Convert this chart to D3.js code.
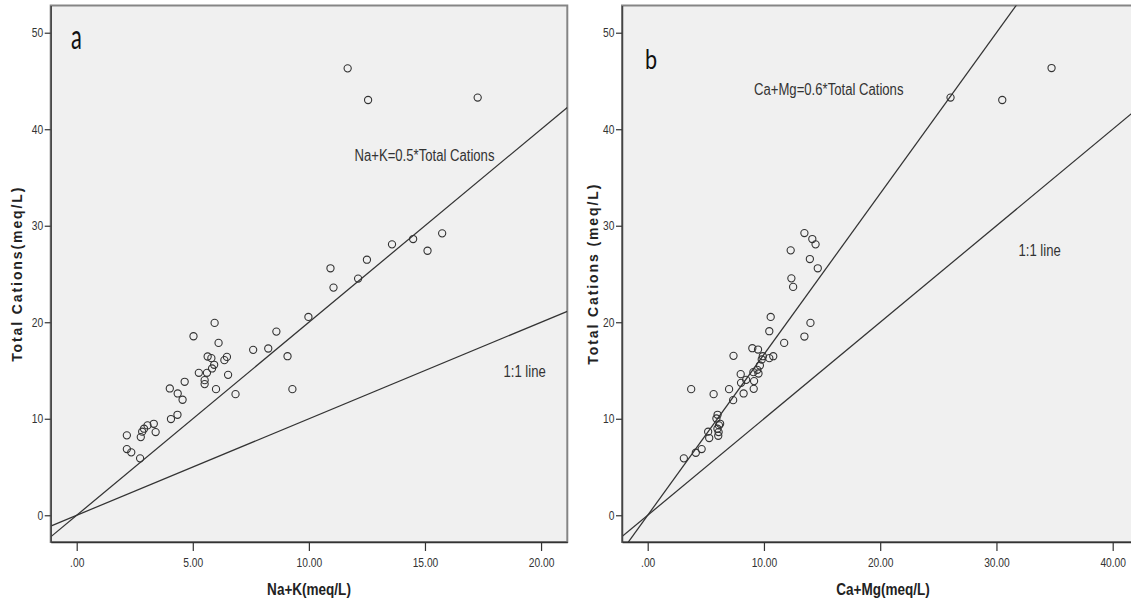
<!DOCTYPE html>
<html><head><meta charset="utf-8">
<script src="https://cdn.jsdelivr.net/npm/d3@7"></script>
<style>
body{margin:0;background:#fff;}
svg{display:block;}
</style></head>
<body>
<svg id="chart" width="1131" height="602"></svg>
<script>
// ---- data ----
const naK = [2.16,2.16,2.35,2.73,2.76,2.82,2.9,3.05,3.32,3.4,4.01,4.06,4.34,4.35,4.56,4.65,5.03,5.26,5.51,5.51,5.61,5.64,5.8,5.83,5.92,5.94,6.0,6.11,6.36,6.47,6.52,6.84,7.6,8.25,8.6,9.08,9.29,9.98,10.93,11.06,11.67,12.12,12.5,12.55,13.58,14.49,15.11,15.74,17.27];
const naKTotal = [8.28,6.86,6.52,5.9,8.1,8.66,8.97,9.31,9.48,8.62,13.14,9.97,10.41,12.62,11.97,13.83,18.55,14.76,14.0,13.59,14.76,16.45,16.28,15.21,15.59,19.93,13.07,17.86,16.07,16.41,14.55,12.55,17.14,17.28,19.03,16.48,13.07,20.55,25.59,23.59,46.31,24.52,26.48,43.03,28.07,28.62,27.41,29.21,43.28];
const caMg = [3.11,3.74,4.14,4.64,5.2,5.29,5.67,5.91,6.01,6.07,6.13,6.23,6.0,6.1,7.0,7.38,7.35,8.0,8.03,8.25,8.47,9.0,9.09,9.12,9.15,9.49,9.43,9.53,9.65,9.81,9.9,10.46,10.46,10.58,10.8,11.74,13.48,14.0,12.3,12.36,12.51,13.48,13.95,14.16,14.44,14.63,26.05,30.5,34.74];
const caMgTotal = [5.9,13.07,6.48,6.86,8.66,8.0,12.55,10.03,10.41,8.24,9.31,9.48,8.97,8.62,13.07,16.52,11.93,14.62,13.72,12.62,14.03,17.31,14.83,13.1,13.9,17.17,15.07,14.69,15.52,16.14,16.48,16.28,19.07,20.55,16.48,17.86,18.52,19.93,27.45,24.55,23.66,29.24,26.55,28.62,28.07,25.59,43.28,43.03,46.34];
const yTicks = [0,10,20,30,40,50];
const yTickLabels = ["0","10","20","30","40","50"];
const xTicksA = [0,5,10,15,20];
const xTickLabelsA = [".00","5.00","10.00","15.00","20.00"];
const xTicksB = [0,10,20,30,40];
const xTickLabelsB = [".00","10.00","20.00","30.00","40.00"];
const ratios = [0.5, 0.6];        // fraction of total cations
const refLines = ["Na+K=0.5*Total Cations","Ca+Mg=0.6*Total Cations"];
const panelLetters = ["a","b"];
const xTitles = ["Na+K(meq/L)","Ca+Mg(meq/L)"];
const yTitles = ["Total Cations(meq/L)","Total Cations (meq/L)"];

// ---- layout ----
const svg = d3.select("#chart");
const font = "'Liberation Sans',Arial,sans-serif";
const SX = 0.82; // horizontal condensation of text
const panels = [
  {x: naK, y: naKTotal, xd: [-1.12, 21.13], left: 50.7, right: 567.3, xt: xTicksA, xl: xTickLabelsA,
   ratio: ratios[0], refLabel: refLines[0], refPos: [354.5, 161], oneLabel: [503.5, 377],
   letter: panelLetters[0], letterPos: [71, 49], letterSize: 34, letterSx: 0.64,
   xTitle: xTitles[0], yTitle: yTitles[0], yTitleX: 17, clipId: "ca"},
  {x: caMg, y: caMgTotal, xd: null, left: 622, right: 1144, xt: xTicksB, xl: xTickLabelsB,
   ratio: ratios[1], refLabel: refLines[1], refPos: [754, 95], oneLabel: [1018.5, 256],
   letter: panelLetters[1], letterPos: [645, 69], letterSize: 27, letterSx: 0.8,
   xTitle: xTitles[1], yTitle: yTitles[1], yTitleX: 593, clipId: "cb"}
];
const plotTop = 5.5, plotBottom = 542;
const y = d3.scaleLinear().domain([-2.77, 52.82]).range([plotBottom, plotTop]);

function condensedText(g, x, yy, str, size, weight, anchor) {
  return g.append("text")
    .attr("transform", `translate(${x},${yy}) scale(${SX},1)`)
    .attr("text-anchor", anchor || "start")
    .attr("font-family", font).attr("font-size", size).attr("font-weight", weight || "normal")
    .attr("fill", "#333").text(str);
}

panels.forEach((p, i) => {
  let x;
  if (p.xd) x = d3.scaleLinear().domain(p.xd).range([p.left, p.right]);
  else {
    const px0 = 647.7, k = (1112.7 - 647.7) / 40;
    x = d3.scaleLinear().domain([(p.left - px0) / k, (p.right - px0) / k]).range([p.left, p.right]);
  }
  const g = svg.append("g");
  g.append("rect").attr("x", p.left).attr("y", plotTop).attr("width", p.right - p.left).attr("height", plotBottom - plotTop)
    .attr("fill", "#f0f0f0").attr("stroke", "#858585").attr("stroke-width", 2);

  svg.append("defs").append("clipPath").attr("id", p.clipId).append("rect")
    .attr("x", p.left).attr("y", plotTop).attr("width", p.right - p.left).attr("height", plotBottom - plotTop);

  const plot = g.append("g").attr("clip-path", `url(#${p.clipId})`);
  const [x0, x1] = x.domain();
  [1 / p.ratio, 1].forEach(s => {
    plot.append("path")
      .attr("d", d3.line().x(d => x(d)).y(d => y(d * s))([x0, x1]))
      .attr("stroke", "#333").attr("stroke-width", 1.25).attr("fill", "none");
  });
  plot.selectAll("circle").data(p.x.map((v, j) => [v, p.y[j]])).join("circle")
    .attr("cx", d => x(d[0])).attr("cy", d => y(d[1])).attr("r", 3.6)
    .attr("fill", "none").attr("stroke", "#333").attr("stroke-width", 1.1);

  const ax = g.append("g").attr("transform", `translate(0,${plotBottom})`)
    .call(d3.axisBottom(x).tickValues(p.xt).tickFormat((d, j) => p.xl[j]).tickSize(9).tickSizeOuter(0));
  ax.select(".domain").attr("stroke", "#333").attr("stroke-width", 1.5);
  ax.selectAll(".tick line").attr("stroke", "#333").attr("stroke-width", 1.2);
  ax.selectAll("text").attr("font-family", font).attr("font-size", 12.5).attr("fill", "#333")
    .attr("dy", "1.05em").attr("transform", `scale(${SX},1)`);

  const ay = g.append("g").attr("transform", `translate(${p.left},0)`)
    .call(d3.axisLeft(y).tickValues(yTicks).tickFormat((d, j) => yTickLabels[j]).tickSize(6).tickSizeOuter(0));
  ay.select(".domain").attr("stroke", "#444").attr("stroke-width", 1.5);
  ay.selectAll(".tick line").attr("stroke", "#333").attr("stroke-width", 1.2);
  ay.selectAll("text").attr("font-family", font).attr("font-size", 12.5).attr("fill", "#333")
    .attr("x", -7.5 / SX).attr("transform", `scale(${SX},1)`);

  condensedText(g, p.refPos[0], p.refPos[1], p.refLabel, 16);
  condensedText(g, p.oneLabel[0], p.oneLabel[1], "1:1 line", 16);
  g.append("text").attr("transform", `translate(${p.letterPos[0]},${p.letterPos[1]}) scale(${p.letterSx},1)`)
    .text(p.letter).attr("font-family", "Lato,'Open Sans',sans-serif").attr("font-size", p.letterSize).attr("fill", "#111");

  condensedText(g, (p.left + p.right) / 2, 595, p.xTitle, 16.5, "bold", "middle").attr("fill", "#222");
  g.append("text").attr("transform", `translate(${p.yTitleX},${(plotTop + plotBottom) / 2}) rotate(-90)`)
    .attr("text-anchor", "middle").attr("dy", "0.35em").text(p.yTitle)
    .attr("font-family", font).attr("font-weight", "bold")
    .attr("font-size", 14).attr("letter-spacing", 1.9).attr("fill", "#222");
});
</script>
</body></html>
